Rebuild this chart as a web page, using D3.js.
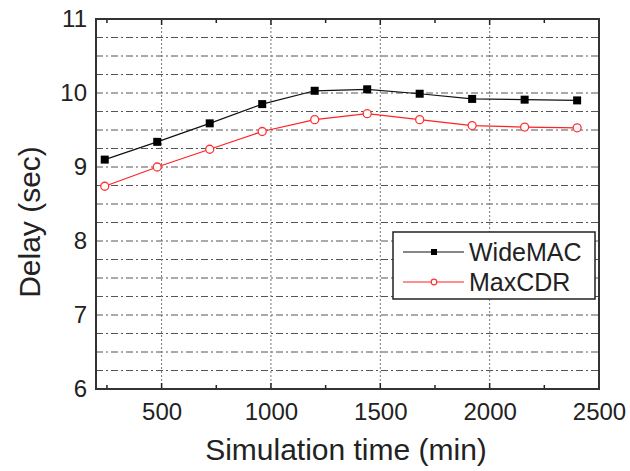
<!DOCTYPE html>
<html><head><meta charset="utf-8">
<script src="https://cdn.jsdelivr.net/npm/d3@7"></script>
<style>body{margin:0;background:#fff}svg{display:block}text{font-family:"Liberation Sans",Arial,sans-serif}</style>
</head><body><svg id="c" width="630" height="471"></svg>
<script>
const times = [240, 480, 720, 960, 1200, 1440, 1680, 1920, 2160, 2400];
const wideMAC = [9.10, 9.34, 9.59, 9.85, 10.03, 10.05, 9.99, 9.92, 9.91, 9.90];
const maxCDR = [8.74, 9.00, 9.24, 9.48, 9.64, 9.72, 9.64, 9.56, 9.54, 9.53];
const xTicks = [500, 1000, 1500, 2000, 2500];
const xMinor = [250, 750, 1250, 1750, 2250];
const yTicks = [6, 7, 8, 9, 10, 11];
const yGrid = [6.25,6.5,6.75,7,7.25,7.5,7.75,8,8.25,8.5,8.75,9,9.25,9.5,9.75,10,10.25,10.5,10.75];
const seriesNames = ["WideMAC", "MaxCDR"];

const svg = d3.select("#c");
const L = 96, R = 599, T = 19, B = 389;
const x = d3.scaleLinear().domain([200, 2500]).range([L, R]);
const y = d3.scaleLinear().domain([6, 11]).range([B, T]);
const ink = "#222";

// horizontal grid
svg.append("g").selectAll("line").data(yGrid).join("line")
  .attr("x1", L).attr("x2", R).attr("y1", d => y(d)).attr("y2", d => y(d))
  .attr("stroke", "#555").attr("stroke-width", 1).attr("stroke-dasharray", "7,3,2,3");
// vertical grid
svg.append("g").selectAll("line").data(xTicks.filter(d => d < 2500)).join("line")
  .attr("x1", d => x(d)).attr("x2", d => x(d)).attr("y1", T).attr("y2", B)
  .attr("stroke", "#777").attr("stroke-width", 1).attr("stroke-dasharray", "2,2");

// axes
const xAxis = d3.axisBottom(x).tickValues(xTicks).tickSize(0).tickPadding(14).tickFormat(d3.format("d"));
const gx = svg.append("g").attr("transform", `translate(0,${B})`).call(xAxis);
gx.select(".domain").remove();
gx.selectAll("text").attr("font-size", 24).attr("fill", ink);
const yAxis = d3.axisLeft(y).tickValues(yTicks).tickSize(0).tickPadding(9).tickFormat(d3.format("d"));
const gy = svg.append("g").attr("transform", `translate(${L},0)`).call(yAxis);
gy.select(".domain").remove();
gy.selectAll("text").attr("font-size", 24).attr("fill", ink);

// tick marks inward
const tk = svg.append("g").attr("stroke", ink).attr("stroke-width", 1.5);
xTicks.concat(xMinor).forEach(d => {
  const len = xMinor.includes(d) ? 4 : 6;
  tk.append("line").attr("x1", x(d)).attr("x2", x(d)).attr("y1", B).attr("y2", B - len);
  tk.append("line").attr("x1", x(d)).attr("x2", x(d)).attr("y1", T).attr("y2", T + len);
});

// frame
svg.append("rect").attr("x", L).attr("y", T).attr("width", R - L).attr("height", B - T)
  .attr("fill", "none").attr("stroke", "#333").attr("stroke-width", 2);

// lines
const line = d3.line().x((d, i) => x(times[i])).y(d => y(d));
svg.append("path").datum(wideMAC).attr("d", line).attr("fill", "none").attr("stroke", "#111").attr("stroke-width", 1.2);
svg.append("path").datum(maxCDR).attr("d", line).attr("fill", "none").attr("stroke", "#f22").attr("stroke-width", 1.2);
svg.append("g").selectAll("rect").data(wideMAC).join("rect")
  .attr("x", (d, i) => x(times[i]) - 4).attr("y", d => y(d) - 4).attr("width", 8).attr("height", 8).attr("fill", "#000");
svg.append("g").selectAll("circle").data(maxCDR).join("circle")
  .attr("cx", (d, i) => x(times[i])).attr("cy", d => y(d)).attr("r", 4)
  .attr("fill", "#fff").attr("stroke", "#f33").attr("stroke-width", 1.3);

// legend
const lg = svg.append("g");
lg.append("rect").attr("x", 393).attr("y", 232).attr("width", 202).attr("height", 67)
  .attr("fill", "#fff").attr("stroke", "#222").attr("stroke-width", 1.5);
const ly = [252, 282];
seriesNames.forEach((n, i) => {
  const c = i === 0 ? "#111" : "#f22";
  lg.append("line").attr("x1", 403).attr("x2", 464).attr("y1", ly[i]).attr("y2", ly[i]).attr("stroke", c).attr("stroke-width", 1.2);
  if (i === 0) lg.append("rect").attr("x", 431).attr("y", ly[i] - 3).attr("width", 6).attr("height", 6).attr("fill", "#000");
  else lg.append("circle").attr("cx", 434).attr("cy", ly[i]).attr("r", 2.8).attr("fill", "#fff").attr("stroke", "#f33").attr("stroke-width", 1.2);
  lg.append("text").attr("x", 469).attr("y", ly[i] + 9).attr("font-size", 25).attr("fill", ink).text(n);
});

// axis titles
svg.append("text").attr("x", 346).attr("y", 460).attr("text-anchor", "middle").attr("font-size", 30).attr("fill", ink).text("Simulation time (min)");
svg.append("text").attr("transform", "translate(40,222) rotate(-90)").attr("text-anchor", "middle").attr("font-size", 30).attr("fill", ink).text("Delay (sec)");
</script></body></html>
